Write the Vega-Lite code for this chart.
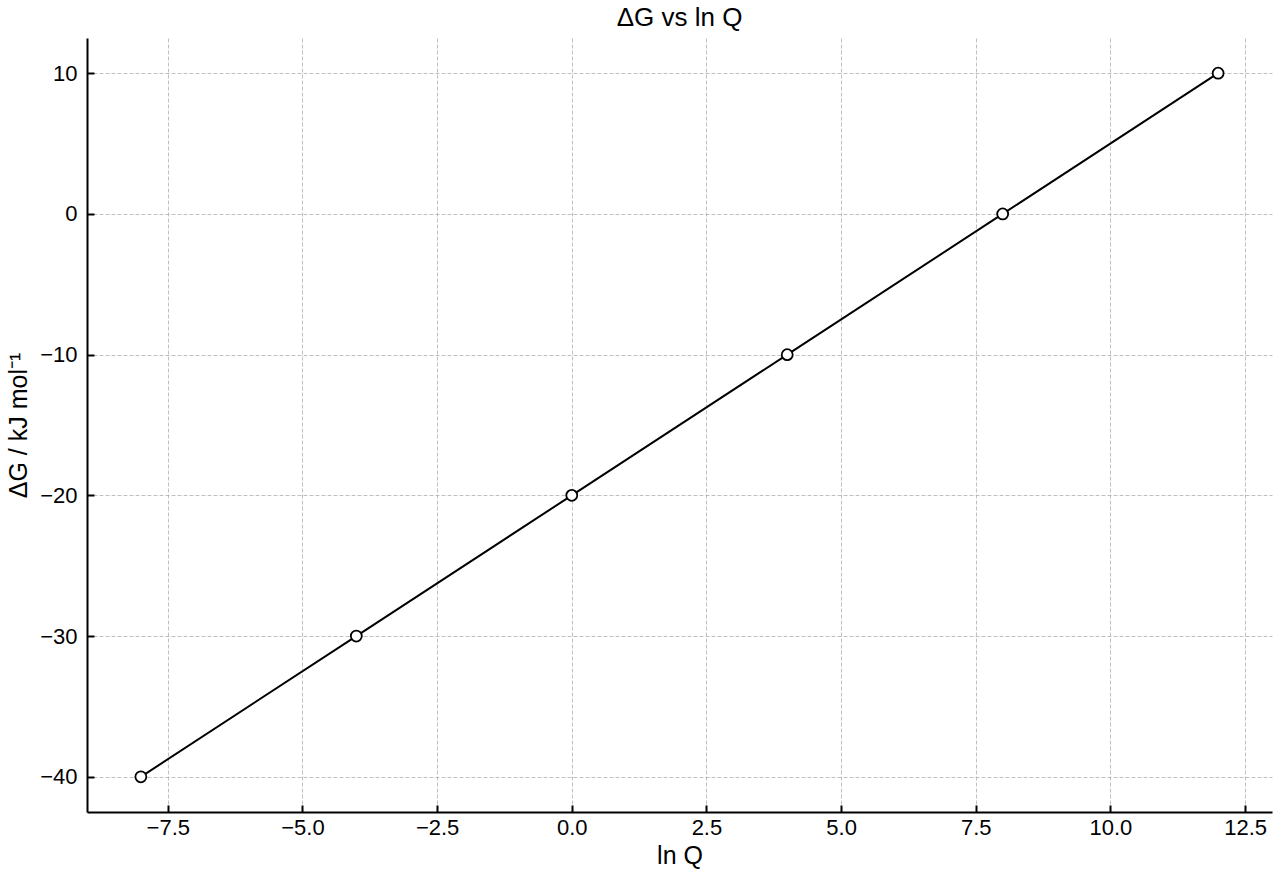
{
  "$schema": "https://vega.github.io/schema/vega-lite/v6.json",
  "autosize": "none",
  "width": 1185,
  "height": 774,
  "padding": {"left": 87, "top": 38, "right": 8, "bottom": 68},
  "background": "white",
  "title": {"text": "ΔG vs ln Q", "font": "Liberation Sans", "fontSize": 26, "fontWeight": "normal", "color": "black", "offset": 7},
  "config": {
    "view": {"stroke": null},
    "axis": {
      "labelFont": "Liberation Sans", "labelFontSize": 22, "labelColor": "black",
      "titleFont": "Liberation Sans", "titleFontSize": 25, "titleFontWeight": "normal", "titleColor": "black",
      "domainColor": "black", "domainWidth": 2,
      "tickColor": "black", "tickWidth": 2, "tickSize": -7,
      "grid": true, "gridColor": "#b0b0b0", "gridDash": [4, 2], "gridWidth": 0.8
    }
  },
  "data": {"values": [
    {"lnQ": -8, "dG": -40},
    {"lnQ": -4, "dG": -30},
    {"lnQ": 0, "dG": -20},
    {"lnQ": 4, "dG": -10},
    {"lnQ": 8, "dG": 0},
    {"lnQ": 12, "dG": 10}
  ]},
  "encoding": {
    "x": {"field": "lnQ", "type": "quantitative", "scale": {"domain": [-9, 13], "nice": false, "zero": false},
      "axis": {"title": "ln Q", "values": [-7.5, -5, -2.5, 0, 2.5, 5, 7.5, 10, 12.5], "format": ".1f", "labelPadding": 12, "titlePadding": 5}},
    "y": {"field": "dG", "type": "quantitative", "scale": {"domain": [-42.5, 12.5], "nice": false, "zero": false},
      "axis": {"title": "ΔG / kJ mol⁻¹", "values": [-40, -30, -20, -10, 0, 10], "format": "d", "labelPadding": 17, "titlePadding": 8}}
  },
  "layer": [
    {"mark": {"type": "line", "color": "black", "strokeWidth": 2}},
    {"mark": {"type": "point", "shape": "circle", "filled": true, "fill": "white", "stroke": "black", "strokeWidth": 1.8, "size": 120, "opacity": 1}}
  ]
}
